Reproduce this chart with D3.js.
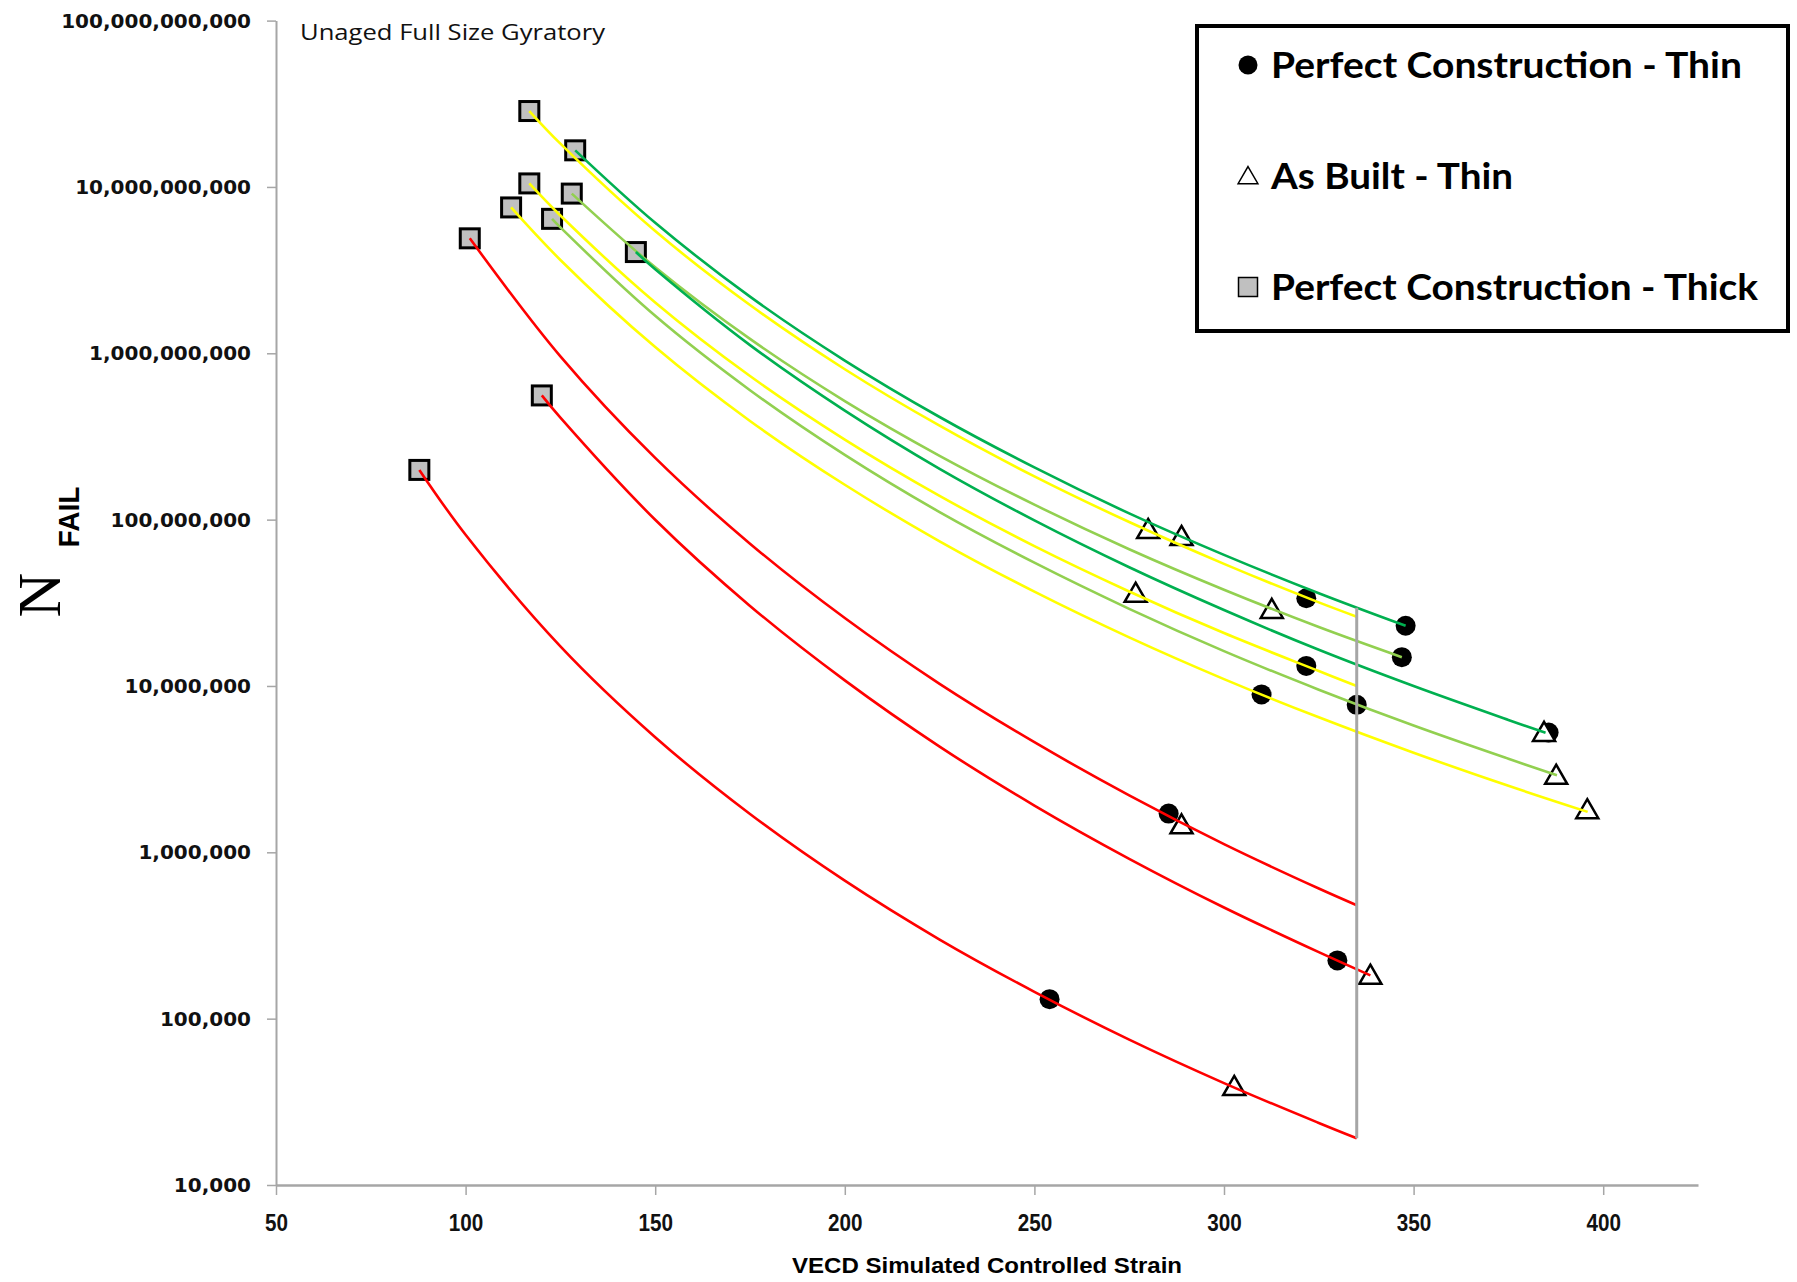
<!DOCTYPE html>
<html>
<head>
<meta charset="utf-8">
<script src="https://cdn.jsdelivr.net/npm/d3@7"></script>
<style>
body { margin: 0; background: #fff; }
svg { display: block; }
</style>
</head>
<body>
<div id="chart"></div>
<script>

// axis ticks
var strainTicks = [50, 100, 150, 200, 250, 300, 350, 400];
var nTicks = [1e4, 1e5, 1e6, 1e7, 1e8, 1e9, 1e10, 1e11];

// Perfect Construction - Thick (squares)
var thickStrain = [116.8, 128.9, 116.8, 128.0, 112.0, 122.8, 101.1, 144.9, 120.1, 87.8];
var thickN = [2.86e10, 1.66e10, 1.05e10, 9.12e9, 7.53e9, 6.43e9, 4.91e9, 4.06e9, 5.58e8, 1.99e8];

// Perfect Construction - Thin (circles)
var thinStrain = [321.7, 347.9, 346.9, 321.7, 309.9, 335.0, 385.6, 285.4, 329.9, 254.0];
var thinN = [3.37e7, 2.30e7, 1.49e7, 1.32e7, 8.9e6, 7.7e6, 5.25e6, 1.71e6, 2.24e5, 1.31e5];

// As Built - Thin (triangles)
var builtStrain = [280.0, 288.8, 276.7, 312.6, 384.4, 387.6, 395.8, 288.8, 338.6, 302.7];
var builtN = [8.7e7, 7.9e7, 3.6e7, 2.88e7, 5.25e6, 2.9e6, 1.8e6, 1.46e6, 1.82e5, 3.9e4];

// fatigue curves
var curveColors = ["#00b050", "#ffff00", "#92d050", "#ffff00", "#00b050", "#92d050", "#ffff00", "#ff0000", "#ff0000", "#ff0000"];
var curveStrain = [
  [128.9, 150, 175, 200, 225, 250, 275, 300, 325, 347.9],
  [116.8, 125, 150, 175, 200, 225, 250, 275, 300, 325, 335],
  [128.0, 150, 175, 200, 225, 250, 275, 300, 325, 346.9],
  [116.8, 125, 150, 175, 200, 225, 250, 275, 300, 325, 335],
  [144.9, 150, 175, 200, 225, 250, 275, 300, 325, 350, 375, 384.8],
  [122.8, 125, 150, 175, 200, 225, 250, 275, 300, 325, 350, 375, 387.8],
  [112.0, 125, 150, 175, 200, 225, 250, 275, 300, 325, 350, 375, 395.9],
  [101.1, 125, 150, 175, 200, 225, 250, 275, 300, 325, 335],
  [120.1, 125, 150, 175, 200, 225, 250, 275, 300, 325, 338.6],
  [87.8, 100, 125, 150, 175, 200, 225, 250, 275, 300, 325, 335]
];
var curveN = [
  [1.66e10, 6.09e9, 2.19e9, 9.04e8, 4.14e8, 2.06e8, 1.09e8, 6.14e7, 3.61e7, 2.30e7],
  [2.86e10, 1.82e10, 5.43e9, 1.95e9, 8.02e8, 3.67e8, 1.82e8, 9.67e7, 5.42e7, 3.18e7, 2.61e7],
  [9.12e9, 3.29e9, 1.22e9, 5.16e8, 2.42e8, 1.23e8, 6.64e7, 3.79e7, 2.26e7, 1.49e7],
  [1.05e10, 6.73e9, 2.02e9, 7.30e8, 3.03e8, 1.39e8, 6.93e7, 3.70e7, 2.08e7, 1.23e7, 1.00e7],
  [4.06e9, 3.20e9, 1.12e9, 4.52e8, 2.02e8, 9.89e7, 5.17e7, 2.86e7, 1.65e7, 9.99e6, 6.25e6, 5.23e6],
  [6.43e9, 5.71e9, 1.68e9, 6.00e8, 2.45e8, 1.11e8, 5.51e7, 2.91e7, 1.62e7, 9.50e6, 5.78e6, 3.65e6, 2.91e6],
  [7.53e9, 3.64e9, 1.09e9, 3.92e8, 1.62e8, 7.41e7, 3.69e7, 1.96e7, 1.10e7, 6.48e6, 3.97e6, 2.51e6, 1.75e6],
  [4.91e9, 9.58e8, 2.35e8, 7.17e7, 2.56e7, 1.03e7, 4.59e6, 2.20e6, 1.12e6, 6.06e5, 4.81e5],
  [5.58e8, 4.10e8, 9.98e7, 3.03e7, 1.08e7, 4.32e6, 1.91e6, 9.14e5, 4.66e5, 2.51e5, 1.82e5],
  [1.99e8, 8.11e7, 1.73e7, 4.92e6, 1.70e6, 6.75e5, 2.99e5, 1.45e5, 7.48e4, 4.10e4, 2.36e4, 1.91e4]
];

// vertical cut-off line
var cutStrain = 335;
var cutN = [2.95e7, 1.91e4];

var legendLabels = ["Perfect Construction - Thin", "As Built - Thin", "Perfect Construction - Thick"];

var W = 1797, H = 1282;
var axisGrey = "#a6a6a6";

var svg = d3.select("#chart").append("svg")
  .attr("width", W)
  .attr("height", H);

var x = d3.scaleLinear().domain([50, 425]).range([276, 1698]);
var y = d3.scaleLog().domain([1e4, 1e11]).range([1185, 20.6]);

// y axis
var yAxis = svg.append("g")
  .attr("transform", "translate(276,0)")
  .call(d3.axisLeft(y).tickValues(nTicks).tickFormat(d3.format(",")).tickSize(9).tickSizeOuter(0).tickPadding(16));
yAxis.select(".domain").attr("stroke", axisGrey).attr("stroke-width", 2);
yAxis.selectAll(".tick line").attr("stroke", axisGrey).attr("stroke-width", 1.5);
yAxis.selectAll(".tick text")
  .style("font-family", "'DejaVu Sans', sans-serif")
  .style("font-weight", "bold")
  .style("font-size", "20px")
  .attr("fill", "#111");

// x axis
var xAxis = svg.append("g")
  .attr("transform", "translate(0,1185)")
  .call(d3.axisBottom(x).tickValues(strainTicks).tickSize(10).tickSizeOuter(0).tickPadding(20));
xAxis.select(".domain").attr("stroke", axisGrey).attr("stroke-width", 2.5);
xAxis.selectAll(".tick line").attr("stroke", axisGrey).attr("stroke-width", 1.5);
xAxis.selectAll(".tick text")
  .style("font-family", "'Liberation Sans', sans-serif")
  .style("font-weight", "bold")
  .style("font-size", "23px")
  .attr("fill", "#111")
  .attr("textLength", function(d) { return String(d).length * 11.5; })
  .attr("lengthAdjust", "spacingAndGlyphs");

// axis titles
svg.append("text")
  .attr("x", 987).attr("y", 1273)
  .attr("text-anchor", "middle")
  .style("font-family", "'Liberation Sans', sans-serif")
  .style("font-weight", "bold")
  .style("font-size", "22px")
  .attr("textLength", 390)
  .attr("lengthAdjust", "spacingAndGlyphs")
  .text("VECD Simulated Controlled Strain");

svg.append("text")
  .attr("transform", "translate(60,595) rotate(-90)")
  .attr("text-anchor", "middle")
  .style("font-family", "'Liberation Serif', serif")
  .style("font-size", "62px")
  .text("N");

svg.append("text")
  .attr("transform", "translate(79,517) rotate(-90)")
  .attr("text-anchor", "middle")
  .style("font-family", "'Liberation Sans', sans-serif")
  .style("font-weight", "bold")
  .style("font-size", "30px")
  .attr("textLength", 61)
  .attr("lengthAdjust", "spacingAndGlyphs")
  .text("FAIL");

svg.append("text")
  .attr("x", 300).attr("y", 40)
  .style("font-family", "'Open Sans', sans-serif")
  .style("font-size", "22px")
  .attr("textLength", 305)
  .attr("lengthAdjust", "spacingAndGlyphs")
  .attr("fill", "#111")
  .text("Unaged Full Size Gyratory");

var plot = svg.append("g");

// markers
var tri = d3.symbol().type(d3.symbolTriangle).size(210);

plot.selectAll(".thick")
  .data(thickStrain)
  .enter().append("rect")
  .attr("x", function(d) { return x(d) - 9.5; })
  .attr("y", function(d, i) { return y(thickN[i]) - 9.5; })
  .attr("width", 19).attr("height", 19)
  .attr("fill", "#c0c0c0")
  .attr("stroke", "#000")
  .attr("stroke-width", 3);

plot.selectAll(".thin")
  .data(thinStrain)
  .enter().append("circle")
  .attr("cx", function(d) { return x(d); })
  .attr("cy", function(d, i) { return y(thinN[i]); })
  .attr("r", 10)
  .attr("fill", "#000");

plot.selectAll(".built")
  .data(builtStrain)
  .enter().append("path")
  .attr("d", tri)
  .attr("transform", function(d, i) { return "translate(" + x(d) + "," + (y(builtN[i]) + 2) + ")"; })
  .attr("fill", "#fff")
  .attr("stroke", "#000")
  .attr("stroke-width", 2.5);

// curves on top of the markers
var line = d3.line()
  .x(function(d) { return x(d[0]); })
  .y(function(d) { return y(d[1]); })
  .curve(d3.curveCatmullRom);

curveStrain.forEach(function(s, k) {
  var pts = s.map(function(v, j) { return [v, curveN[k][j]]; });
  plot.append("path")
    .attr("d", line(pts))
    .attr("fill", "none")
    .attr("stroke", curveColors[k])
    .attr("stroke-width", 2.6);
});

plot.append("line")
  .attr("x1", x(cutStrain)).attr("x2", x(cutStrain))
  .attr("y1", y(cutN[0])).attr("y2", y(cutN[1]))
  .attr("stroke", axisGrey)
  .attr("stroke-width", 3);

// legend
var legend = svg.append("g");
legend.append("rect")
  .attr("x", 1197).attr("y", 26)
  .attr("width", 591).attr("height", 305)
  .attr("fill", "#fff")
  .attr("stroke", "#000")
  .attr("stroke-width", 4);

var rowY = [65, 176, 287];
var textLen = [471, 242, 487];

legend.append("circle").attr("cx", 1248).attr("cy", rowY[0]).attr("r", 9.5).attr("fill", "#000");
legend.append("path")
  .attr("d", d3.symbol().type(d3.symbolTriangle).size(170)())
  .attr("transform", "translate(1248," + (rowY[1] + 2) + ")")
  .attr("fill", "#fff").attr("stroke", "#000").attr("stroke-width", 1.5);
legend.append("rect")
  .attr("x", 1238.5).attr("y", rowY[2] - 9.5).attr("width", 19).attr("height", 19)
  .attr("fill", "#c0c0c0").attr("stroke", "#000").attr("stroke-width", 1.5);

legend.selectAll(".lab")
  .data(legendLabels)
  .enter().append("text")
  .attr("x", 1271)
  .attr("y", function(d, i) { return rowY[i] + 13; })
  .style("font-family", "Lato, sans-serif")
  .style("font-weight", "bold")
  .style("font-size", "36px")
  .attr("textLength", function(d, i) { return textLen[i]; })
  .attr("lengthAdjust", "spacingAndGlyphs")
  .attr("fill", "#000")
  .text(function(d) { return d; });

</script>
</body>
</html>
